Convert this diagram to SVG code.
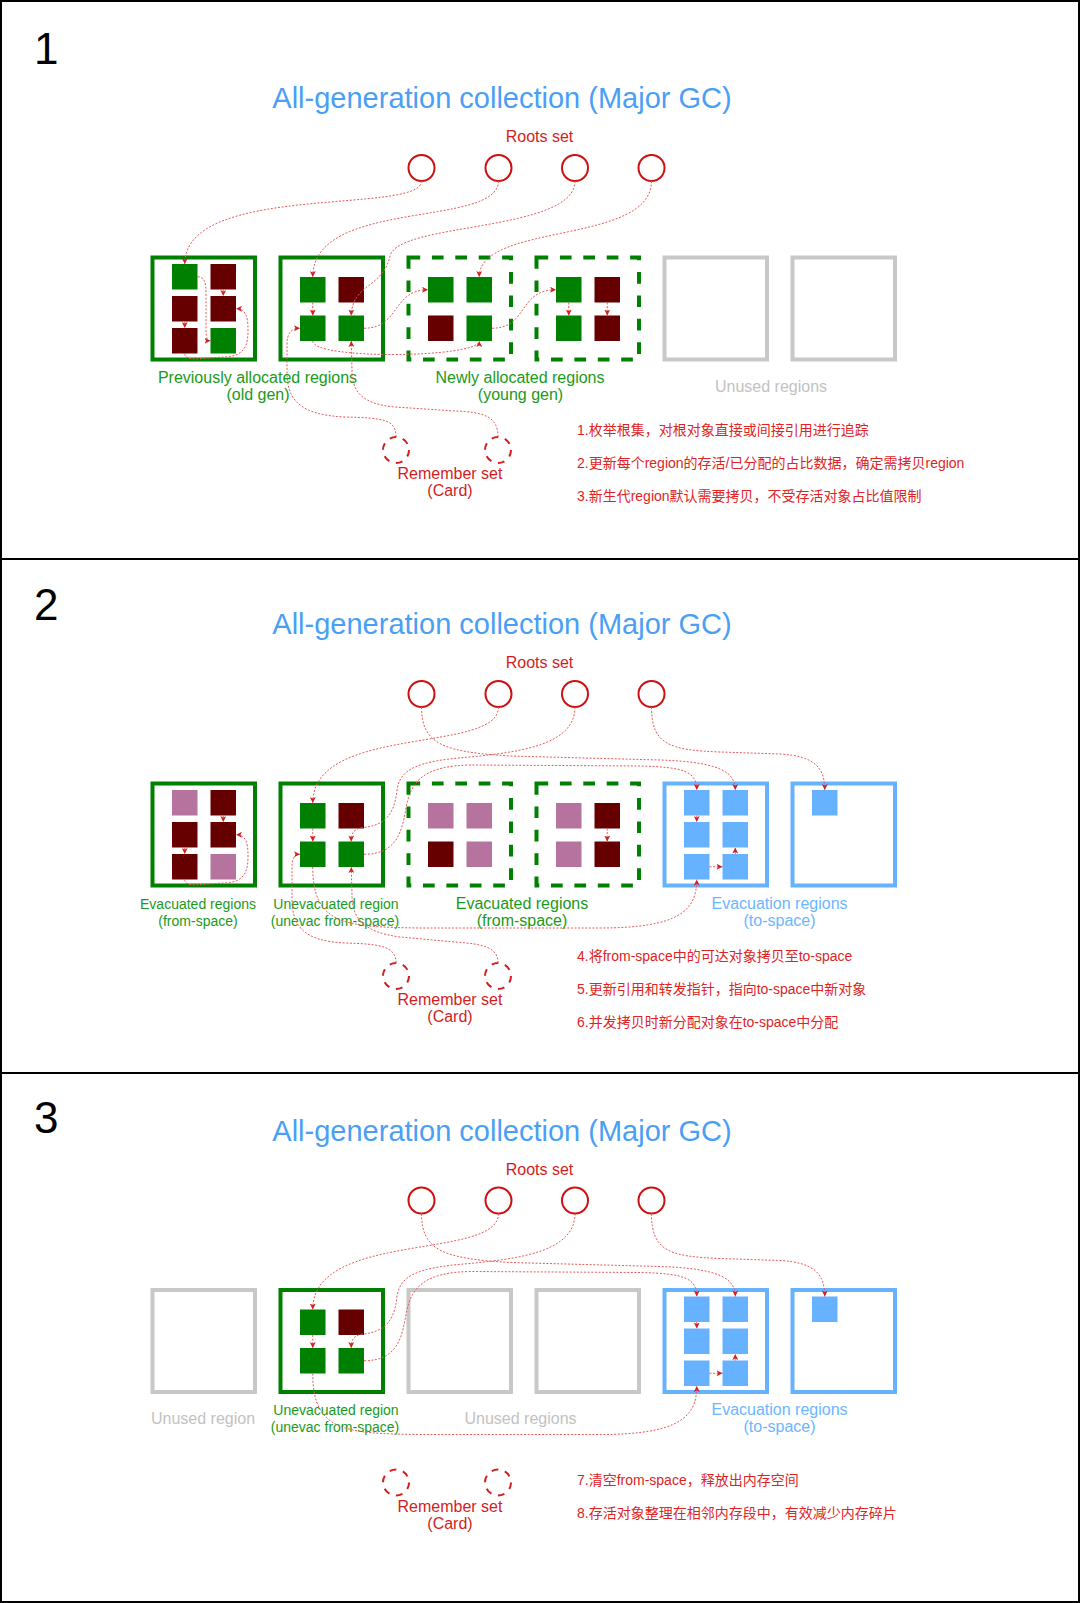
<svg xmlns="http://www.w3.org/2000/svg" width="1080" height="1603" viewBox="0 0 1080 1603">
<defs>
<marker id="ah" viewBox="0 0 8 8" refX="8" refY="4" markerWidth="6" markerHeight="6" markerUnits="userSpaceOnUse" orient="auto"><path d="M0,0 L8,4 L0,8 L2,4 z" fill="#d42020"/></marker>
<style>
.frame{fill:none;stroke:#000;stroke-width:2}
.rg{fill:#fff;stroke:#008000;stroke-width:4}
.rgd{fill:#fff;stroke:#008000;stroke-width:4;stroke-dasharray:11.7 11.7}
.rgr{fill:#fff;stroke:#c8c8c8;stroke-width:4}
.rb{fill:#fff;stroke:#66b2ff;stroke-width:4}
.g{fill:#008000}.d{fill:#660000}.p{fill:#b5739d}.b{fill:#66b2ff}
.root{fill:#fff;stroke:#cc1111;stroke-width:2}
.rs{fill:none;stroke:#d41c1c;stroke-width:2;stroke-dasharray:6.8 6.8}
.e{fill:none;stroke:#e65a5a;stroke-width:1;stroke-dasharray:2 1.6;marker-end:url(#ah)}
text{font-family:"Liberation Sans","Noto Sans CJK SC",sans-serif}
.num{font-size:44px;fill:#000}
.title{font-size:29px;fill:#4a9ff5;text-anchor:middle}
.red{font-size:16px;fill:#d21d1d;text-anchor:middle}
.lg{font-size:16px;fill:#1a9a1a;text-anchor:middle}
.lgs{font-size:14px;fill:#1a9a1a;text-anchor:middle}
.lgray{font-size:16px;fill:#c2c2c2;text-anchor:middle}
.lblue{font-size:16px;fill:#6cb6ff;text-anchor:middle}
.cn{font-size:14px;fill:#e02424}
</style>
</defs>
<rect x="0" y="0" width="1080" height="1603" fill="#fff"/>
<g id="frame">
<rect class="frame" x="1" y="1" width="1078" height="1601"/>
<line class="frame" x1="0" y1="559" x2="1080" y2="559"/>
<line class="frame" x1="0" y1="1073" x2="1080" y2="1073"/>
</g>

<!-- PANEL 1 -->
<g id="panel1-text">
<text class="num" x="34" y="64">1</text>
<text class="title" x="502" y="108">All-generation collection (Major GC)</text>
<text class="red" x="539.5" y="142">Roots set</text>
<text class="lg" x="257.5" y="383">Previously allocated regions</text>
<text class="lg" x="258" y="400">(old gen)</text>
<text class="lg" x="520" y="383">Newly allocated regions</text>
<text class="lg" x="520.5" y="400">(young gen)</text>
<text class="lgray" x="771" y="391.5">Unused regions</text>
<text class="red" x="450" y="479">Remember set</text>
<text class="red" x="450" y="496">(Card)</text>
<text class="cn" x="577" y="435">1.枚举根集，对根对象直接或间接引用进行追踪</text>
<text class="cn" x="577" y="468">2.更新每个region的存活/已分配的占比数据，确定需拷贝region</text>
<text class="cn" x="577" y="501">3.新生代region默认需要拷贝，不受存活对象占比值限制</text>
</g>
<g id="p1-roots">
<circle class="root" cx="421.5" cy="168" r="13"/>
<circle class="root" cx="498.5" cy="168" r="13"/>
<circle class="root" cx="575" cy="168" r="13"/>
<circle class="root" cx="651.5" cy="168" r="13"/>
</g>
<g id="p1-remember">
<circle class="rs" cx="396" cy="450" r="13"/>
<circle class="rs" cx="498" cy="450" r="13"/>
</g>
<g id="p1-r1">
<rect class="rg" x="152.5" y="257.5" width="102.5" height="102"/>
<rect class="g" x="172" y="264" width="25.5" height="25.5"/>
<rect class="d" x="210.5" y="264" width="25.5" height="25.5"/>
<rect class="d" x="172" y="296" width="25.5" height="25.5"/>
<rect class="d" x="210.5" y="296" width="25.5" height="25.5"/>
<rect class="d" x="172" y="328" width="25.5" height="25.5"/>
<rect class="g" x="210.5" y="328" width="25.5" height="25.5"/>
</g>
<g id="p1-r2">
<rect class="rg" x="280.5" y="257.5" width="102.5" height="102"/>
<rect class="g" x="300" y="277" width="25.5" height="25.5"/>
<rect class="d" x="338.5" y="277" width="25.5" height="25.5"/>
<rect class="g" x="300" y="315.5" width="25.5" height="25.5"/>
<rect class="g" x="338.5" y="315.5" width="25.5" height="25.5"/>
</g>
<g id="p1-r3">
<rect class="rgd" x="408.5" y="257.5" width="102.5" height="102"/>
<rect class="g" x="428" y="277" width="25.5" height="25.5"/>
<rect class="g" x="466.5" y="277" width="25.5" height="25.5"/>
<rect class="d" x="428" y="315.5" width="25.5" height="25.5"/>
<rect class="g" x="466.5" y="315.5" width="25.5" height="25.5"/>
</g>
<g id="p1-r4">
<rect class="rgd" x="536.5" y="257.5" width="102.5" height="102"/>
<rect class="g" x="556" y="277" width="25.5" height="25.5"/>
<rect class="d" x="594.5" y="277" width="25.5" height="25.5"/>
<rect class="g" x="556" y="315.5" width="25.5" height="25.5"/>
<rect class="d" x="594.5" y="315.5" width="25.5" height="25.5"/>
</g>
<g id="p1-r5"><rect class="rgr" x="664.5" y="257.5" width="102.5" height="102"/></g>
<g id="p1-r6"><rect class="rgr" x="792.5" y="257.5" width="102.5" height="102"/></g>

<!-- PANEL 2 -->
<g id="panel2-text">
<text class="num" x="34" y="620">2</text>
<text class="title" x="502" y="634">All-generation collection (Major GC)</text>
<text class="red" x="539.5" y="668">Roots set</text>
<text class="lgs" x="198" y="909">Evacuated regions</text>
<text class="lgs" x="198" y="926">(from-space)</text>
<text class="lgs" x="336" y="909">Unevacuated region</text>
<text class="lgs" x="335" y="926">(unevac from-space)</text>
<text class="lg" x="522" y="909">Evacuated regions</text>
<text class="lg" x="522" y="926">(from-space)</text>
<text class="lblue" x="779.5" y="909">Evacuation regions</text>
<text class="lblue" x="779.5" y="926">(to-space)</text>
<text class="red" x="450" y="1005">Remember set</text>
<text class="red" x="450" y="1022">(Card)</text>
<text class="cn" x="577" y="961">4.将from-space中的可达对象拷贝至to-space</text>
<text class="cn" x="577" y="994">5.更新引用和转发指针，指向to-space中新对象</text>
<text class="cn" x="577" y="1027">6.并发拷贝时新分配对象在to-space中分配</text>
</g>
<g id="p2-roots">
<circle class="root" cx="421.5" cy="694" r="13"/>
<circle class="root" cx="498.5" cy="694" r="13"/>
<circle class="root" cx="575" cy="694" r="13"/>
<circle class="root" cx="651.5" cy="694" r="13"/>
</g>
<g id="p2-remember">
<circle class="rs" cx="396" cy="976" r="13"/>
<circle class="rs" cx="498" cy="976" r="13"/>
</g>
<g id="p2-r1">
<rect class="rg" x="152.5" y="783.5" width="102.5" height="102"/>
<rect class="p" x="172" y="790" width="25.5" height="25.5"/>
<rect class="d" x="210.5" y="790" width="25.5" height="25.5"/>
<rect class="d" x="172" y="822" width="25.5" height="25.5"/>
<rect class="d" x="210.5" y="822" width="25.5" height="25.5"/>
<rect class="d" x="172" y="854" width="25.5" height="25.5"/>
<rect class="p" x="210.5" y="854" width="25.5" height="25.5"/>
</g>
<g id="p2-r2">
<rect class="rg" x="280.5" y="783.5" width="102.5" height="102"/>
<rect class="g" x="300" y="803" width="25.5" height="25.5"/>
<rect class="d" x="338.5" y="803" width="25.5" height="25.5"/>
<rect class="g" x="300" y="841.5" width="25.5" height="25.5"/>
<rect class="g" x="338.5" y="841.5" width="25.5" height="25.5"/>
</g>
<g id="p2-r3">
<rect class="rgd" x="408.5" y="783.5" width="102.5" height="102"/>
<rect class="p" x="428" y="803" width="25.5" height="25.5"/>
<rect class="p" x="466.5" y="803" width="25.5" height="25.5"/>
<rect class="d" x="428" y="841.5" width="25.5" height="25.5"/>
<rect class="p" x="466.5" y="841.5" width="25.5" height="25.5"/>
</g>
<g id="p2-r4">
<rect class="rgd" x="536.5" y="783.5" width="102.5" height="102"/>
<rect class="p" x="556" y="803" width="25.5" height="25.5"/>
<rect class="d" x="594.5" y="803" width="25.5" height="25.5"/>
<rect class="p" x="556" y="841.5" width="25.5" height="25.5"/>
<rect class="d" x="594.5" y="841.5" width="25.5" height="25.5"/>
</g>
<g id="p2-r5">
<rect class="rb" x="664.5" y="783.5" width="102.5" height="102"/>
<rect class="b" x="684" y="790" width="25.5" height="25.5"/>
<rect class="b" x="722.5" y="790" width="25.5" height="25.5"/>
<rect class="b" x="684" y="822" width="25.5" height="25.5"/>
<rect class="b" x="722.5" y="822" width="25.5" height="25.5"/>
<rect class="b" x="684" y="854" width="25.5" height="25.5"/>
<rect class="b" x="722.5" y="854" width="25.5" height="25.5"/>
</g>
<g id="p2-r6">
<rect class="rb" x="792.5" y="783.5" width="102.5" height="102"/>
<rect class="b" x="812" y="790" width="25.5" height="25.5"/>
</g>

<!-- PANEL 3 -->
<g id="panel3-text">
<text class="num" x="34" y="1133">3</text>
<text class="title" x="502" y="1141">All-generation collection (Major GC)</text>
<text class="red" x="539.5" y="1174.5">Roots set</text>
<text class="lgray" x="203" y="1424">Unused region</text>
<text class="lgs" x="336" y="1415">Unevacuated region</text>
<text class="lgs" x="335" y="1432">(unevac from-space)</text>
<text class="lgray" x="520.5" y="1424">Unused regions</text>
<text class="lblue" x="779.5" y="1415">Evacuation regions</text>
<text class="lblue" x="779.5" y="1432">(to-space)</text>
<text class="red" x="450" y="1512">Remember set</text>
<text class="red" x="450" y="1529">(Card)</text>
<text class="cn" x="577" y="1485">7.清空from-space，释放出内存空间</text>
<text class="cn" x="577" y="1518">8.存活对象整理在相邻内存段中，有效减少内存碎片</text>
</g>
<g id="p3-roots">
<circle class="root" cx="421.5" cy="1200.5" r="13"/>
<circle class="root" cx="498.5" cy="1200.5" r="13"/>
<circle class="root" cx="575" cy="1200.5" r="13"/>
<circle class="root" cx="651.5" cy="1200.5" r="13"/>
</g>
<g id="p3-remember">
<circle class="rs" cx="396" cy="1482.5" r="13"/>
<circle class="rs" cx="498" cy="1482.5" r="13"/>
</g>
<g id="p3-r1"><rect class="rgr" x="152.5" y="1290" width="102.5" height="102"/></g>
<g id="p3-r2">
<rect class="rg" x="280.5" y="1290" width="102.5" height="102"/>
<rect class="g" x="300" y="1309.5" width="25.5" height="25.5"/>
<rect class="d" x="338.5" y="1309.5" width="25.5" height="25.5"/>
<rect class="g" x="300" y="1348" width="25.5" height="25.5"/>
<rect class="g" x="338.5" y="1348" width="25.5" height="25.5"/>
</g>
<g id="p3-r3"><rect class="rgr" x="408.5" y="1290" width="102.5" height="102"/></g>
<g id="p3-r4"><rect class="rgr" x="536.5" y="1290" width="102.5" height="102"/></g>
<g id="p3-r5">
<rect class="rb" x="664.5" y="1290" width="102.5" height="102"/>
<rect class="b" x="684" y="1296.5" width="25.5" height="25.5"/>
<rect class="b" x="722.5" y="1296.5" width="25.5" height="25.5"/>
<rect class="b" x="684" y="1328.5" width="25.5" height="25.5"/>
<rect class="b" x="722.5" y="1328.5" width="25.5" height="25.5"/>
<rect class="b" x="684" y="1360.5" width="25.5" height="25.5"/>
<rect class="b" x="722.5" y="1360.5" width="25.5" height="25.5"/>
</g>
<g id="p3-r6">
<rect class="rb" x="792.5" y="1290" width="102.5" height="102"/>
<rect class="b" x="812" y="1296.5" width="25.5" height="25.5"/>
</g>

<!-- CONNECTORS -->
<g id="connectors">
<g id="p1-edges">
<path class="e" d="M421.5,181 C421.5,215 184.75,182 184.75,264"/>
<path class="e" d="M498.5,181 C498.5,228 312.75,198 312.75,277"/>
<path class="e" d="M575,181 C575,232 398,222 390,256 C383,288 352,284 351.25,315.5"/>
<path class="e" d="M651.5,181 C651.5,245 479.25,222 479.25,277"/>
<path class="e" d="M197.5,276.75 C205,277 206,283 206,295 L206,330 C206,338 207,340.75 210.5,340.75"/>
<path class="e" d="M223.25,289.5 L223.25,296"/>
<path class="e" d="M184.75,321.5 L184.75,328"/>
<path class="e" d="M184.75,353.5 C184.75,362 200,358 225,357 C245,356 248,345 248,330 C248,315 245,308.75 236,308.75"/>
<path class="e" d="M312.75,302.5 L312.75,315.5"/>
<path class="e" d="M312.75,341 C312.75,360 479.25,358 479.25,341"/>
<path class="e" d="M364,328.25 C400,328.25 392,289.75 428,289.75"/>
<path class="e" d="M396,437 C396,420 385,418 345,417 C300,415 287,400 287,372 L287,345 C287,333 291,328.25 300,328.25"/>
<path class="e" d="M498,437 C498,417 485,412 455,411 L395,407 C362,404 352,392 352,370 L351.25,341"/>
<path class="e" d="M492,328.25 C528,328.25 518,289.75 556,289.75"/>
<path class="e" d="M568.75,302.5 L568.75,315.5"/>
<path class="e" d="M607.25,302.5 L607.25,315.5"/>
</g>
<g id="p2-edges">
<path class="e" d="M421.5,707 C421.5,745 445,752 510,756 L660,760 C720,762 735.25,772 735.25,790"/>
<path class="e" d="M498.5,707 C498.5,754 312.75,724 312.75,803"/>
<path class="e" d="M575,707 C575,745 520,752 470,757 C415,761 400,770 397,790 C394,820 380,826 360,828 C353,830 351.25,834 351.25,841.5"/>
<path class="e" d="M651.5,707 C651.5,745 670,750 720,752 L780,754 C815,756 824.75,768 824.75,790"/>
<path class="e" d="M312.75,828.5 L312.75,841.5"/>
<path class="e" d="M364,854.25 C398,854.25 402,830 406,808 C411,780 425,766 470,765 L640,766 C685,767 696.75,772 696.75,790"/>
<path class="e" d="M312.75,867 C312.75,925 345,927 420,928 L600,928 C680,928 696.75,910 696.75,879.5"/>
<path class="e" d="M696.75,815.5 L696.75,822"/>
<path class="e" d="M709.5,866.75 L722.5,866.75"/>
<path class="e" d="M735.25,854 L735.25,847.5"/>
<path class="e" d="M223.25,815.5 L223.25,822"/>
<path class="e" d="M184.75,847.5 L184.75,854"/>
<path class="e" d="M184.75,879.5 C184.75,888 200,884 225,883 C245,882 248,871 248,856 C248,841 245,834.75 236,834.75"/>
<path class="e" d="M396,963 C396,946 380,944 345,943 C302,941 292,925 292,898 L292,868 C292,859 294,854.25 300,854.25"/>
<path class="e" d="M498,963 C498,948 485,944 455,942 L400,937 C363,932 352,918 352,895 L351.25,867"/>
<path class="e" d="M607.25,828.5 L607.25,841.5"/>
</g>
<g id="p3-edges" transform="translate(0,506.5)">
<path class="e" d="M421.5,707 C421.5,745 445,752 510,756 L660,760 C720,762 735.25,772 735.25,790"/>
<path class="e" d="M498.5,707 C498.5,754 312.75,724 312.75,803"/>
<path class="e" d="M575,707 C575,745 520,752 470,757 C415,761 400,770 397,790 C394,820 380,826 360,828 C353,830 351.25,834 351.25,841.5"/>
<path class="e" d="M651.5,707 C651.5,745 670,750 720,752 L780,754 C815,756 824.75,768 824.75,790"/>
<path class="e" d="M312.75,828.5 L312.75,841.5"/>
<path class="e" d="M364,854.25 C398,854.25 402,830 406,808 C411,780 425,766 470,765 L640,766 C685,767 696.75,772 696.75,790"/>
<path class="e" d="M312.75,867 C312.75,925 345,927 420,928 L600,928 C680,928 696.75,910 696.75,879.5"/>
<path class="e" d="M696.75,815.5 L696.75,822"/>
<path class="e" d="M709.5,866.75 L722.5,866.75"/>
<path class="e" d="M735.25,854 L735.25,847.5"/>
</g>
</g>
</svg>
